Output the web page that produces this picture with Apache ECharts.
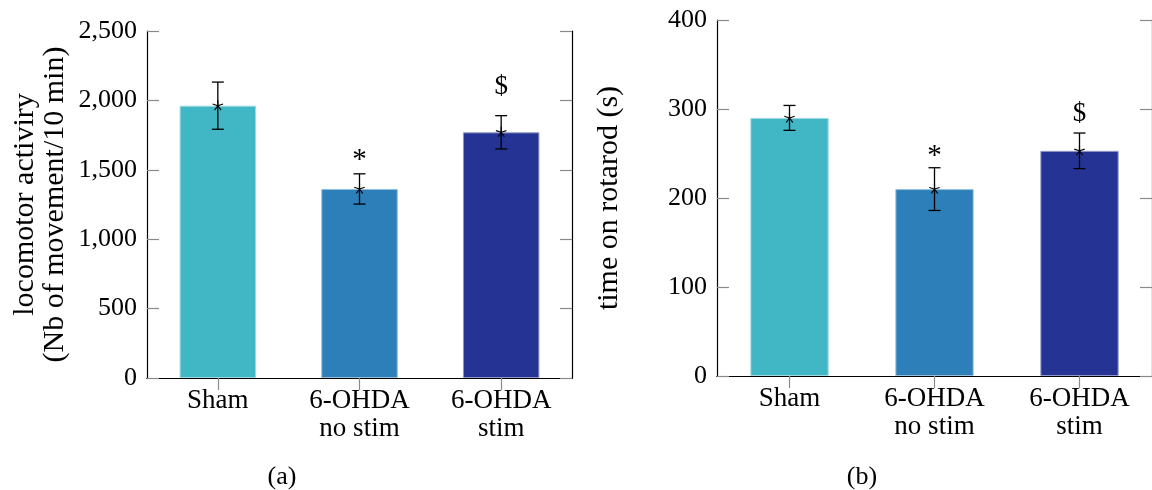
<!DOCTYPE html>
<html>
<head>
<meta charset="utf-8">
<script src="https://cdn.jsdelivr.net/npm/echarts@6/dist/echarts.min.js"></script>
<style>
html,body{margin:0;padding:0;background:#fff;}
#main{width:1152px;height:490px;}
</style>
</head>
<body>
<div id="main"></div>
<script>
// ---- data ----
const categories = ['Sham', '6-OHDA\nno stim', '6-OHDA\nstim'];
const barColors = ['#41b6c4', '#2c7fb8', '#253494'];
const barEdges = ['#a0dbe2', '#96bfdc', '#9299ca'];

// (a) locomotor activity
const locoMean = [1962, 1362, 1770];
const locoErr = [170, 109, 120];
const locoSig = ['', '*', '$'];
const locoSigY = [null, 1590, 2097];
const locoTicks = [0, 500, 1000, 1500, 2000, 2500];

// (b) rotarod
const rotaMean = [290, 210, 253];
const rotaErr = [14, 24, 20];
const rotaSig = ['', '*', '$'];
const rotaSigY = [null, 250, 295];
const rotaTicks = [0, 100, 200, 300, 400];

const FONT = '"Liberation Serif", "Times New Roman", serif';
const TICKC = '#8a8a8a';

function fmt(v) { return String(v).replace(/\B(?=(\d{3})+(?!\d))/g, ','); }

function errRender(params, api) {
  const x = api.value(0), m = api.value(1), e = api.value(2);
  const top = api.coord([x, m + e]);
  const bot = api.coord([x, m - e]);
  const c = api.coord([x, m]);
  const cap = 6, r = 5.5;
  const style = { stroke: '#000', lineWidth: 1.3 };
  const children = [
    { type: 'line', shape: { x1: top[0], y1: top[1], x2: bot[0], y2: bot[1] }, style },
    { type: 'line', shape: { x1: top[0] - cap, y1: top[1], x2: top[0] + cap, y2: top[1] }, style },
    { type: 'line', shape: { x1: bot[0] - cap, y1: bot[1], x2: bot[0] + cap, y2: bot[1] }, style }
  ];
  for (let k = 0; k < 5; k++) {
    const a = (90 + 72 * k) * Math.PI / 180;
    children.push({ type: 'line', shape: { x1: c[0], y1: c[1], x2: c[0] + r * Math.cos(a), y2: c[1] - r * Math.sin(a) }, style: { stroke: '#000', lineWidth: 1.1 } });
  }
  return { type: 'group', children };
}

function sigRender(params, api) {
  const x = api.value(0), y = api.value(1);
  const txt = api.value(2);
  const p = api.coord([x, y]);
  const isStar = txt === '*';
  return {
    type: 'text',
    x: p[0], y: p[1] + (isStar ? 3 : 0),
    style: { text: txt, fill: '#000', font: (isStar ? '29px ' : '27px ') + FONT, align: 'center', verticalAlign: 'middle' }
  };
}

function makeBars(means, xi, yi) {
  return {
    type: 'bar', xAxisIndex: xi, yAxisIndex: yi, barWidth: '54%',
    data: means.map((v, i) => ({ value: v, itemStyle: { color: barColors[i], borderColor: barEdges[i], borderWidth: 1 } })),
    silent: true, animation: false, z: 2
  };
}
function makeErr(means, errs, xi, yi) {
  return {
    type: 'custom', xAxisIndex: xi, yAxisIndex: yi, renderItem: errRender,
    data: means.map((v, i) => [i, v, errs[i]]), silent: true, animation: false, z: 5
  };
}
function makeSig(labels, ys, xi, yi) {
  const d = [];
  labels.forEach((t, i) => { if (t) d.push([i, ys[i], t]); });
  return {
    type: 'custom', xAxisIndex: xi, yAxisIndex: yi, renderItem: sigRender,
    dimensions: ['x', 'y', 't'],
    encode: { x: 0, y: 1 },
    data: d, silent: true, animation: false, z: 6
  };
}

function xBottom(gi) {
  return {
    type: 'category', gridIndex: gi, position: 'bottom', data: categories,
    axisLine: { show: true, lineStyle: { color: '#000', width: 1.2 } },
    axisTick: { show: false },
    axisLabel: { color: '#000', fontFamily: FONT, fontSize: 27, lineHeight: 28, margin: 9 },
    splitLine: { show: false }
  };
}
function xTop(gi) {
  return {
    type: 'category', gridIndex: gi, position: 'top', data: categories,
    axisLine: { show: true, lineStyle: { color: '#000', width: 1.2 } },
    axisTick: { show: true, inside: true, alignWithLabel: true, length: 12, lineStyle: { color: TICKC, width: 1.2 } },
    axisLabel: { show: false }, splitLine: { show: false }
  };
}
function yLeft(gi, ticks, name, gap) {
  return {
    type: 'value', gridIndex: gi, position: 'left', min: ticks[0], max: ticks[ticks.length - 1],
    interval: ticks[1] - ticks[0],
    name: name, nameLocation: 'middle', nameRotate: 90, nameGap: gap,
    nameTextStyle: { color: '#000', fontFamily: FONT, fontSize: 30, lineHeight: 30 },
    axisLine: { show: true, lineStyle: { color: '#000', width: 1.2 } },
    axisTick: { show: true, inside: true, length: 12, lineStyle: { color: TICKC, width: 1.2 } },
    axisLabel: { color: '#000', fontFamily: FONT, fontSize: 26, margin: 10, formatter: fmt },
    splitLine: { show: false }
  };
}
function yRight(gi, ticks) {
  return {
    type: 'value', gridIndex: gi, position: 'right', min: ticks[0], max: ticks[ticks.length - 1],
    interval: ticks[1] - ticks[0],
    axisLine: { show: true, lineStyle: { color: '#000', width: 1.2 } },
    axisTick: { show: true, inside: true, length: 12, lineStyle: { color: TICKC, width: 1.2 } },
    axisLabel: { show: false }, splitLine: { show: false }
  };
}

const chart = echarts.init(document.getElementById('main'), null, { renderer: 'canvas' });
chart.setOption({
  animation: false,
  backgroundColor: '#fff',
  title: [
    { text: '(a)', left: 277, top: 459, textAlign: 'center', textStyle: { fontFamily: FONT, fontSize: 26, fontWeight: 'normal', color: '#000' } },
    { text: '(b)', left: 857, top: 459, textAlign: 'center', textStyle: { fontFamily: FONT, fontSize: 26, fontWeight: 'normal', color: '#000' } }
  ],
  grid: [
    { left: 147, right: 580, top: 31, bottom: 112, containLabel: false },
    { left: 717, right: -1, top: 20, bottom: 114, containLabel: false }
  ],
  xAxis: [xBottom(0), xTop(0), xBottom(1), xTop(1)],
  yAxis: [
    yLeft(0, locoTicks, 'locomotor activiry\n(Nb of movement/10 min)', 77),
    yRight(0, locoTicks),
    yLeft(1, rotaTicks, 'time on rotarod (s)', 93),
    yRight(1, rotaTicks)
  ],
  series: [
    makeBars(locoMean, 0, 0), makeErr(locoMean, locoErr, 0, 0), makeSig(locoSig, locoSigY, 0, 0),
    makeBars(rotaMean, 2, 2), makeErr(rotaMean, rotaErr, 2, 2), makeSig(rotaSig, rotaSigY, 2, 2)
  ]
});
</script>
</body>
</html>
